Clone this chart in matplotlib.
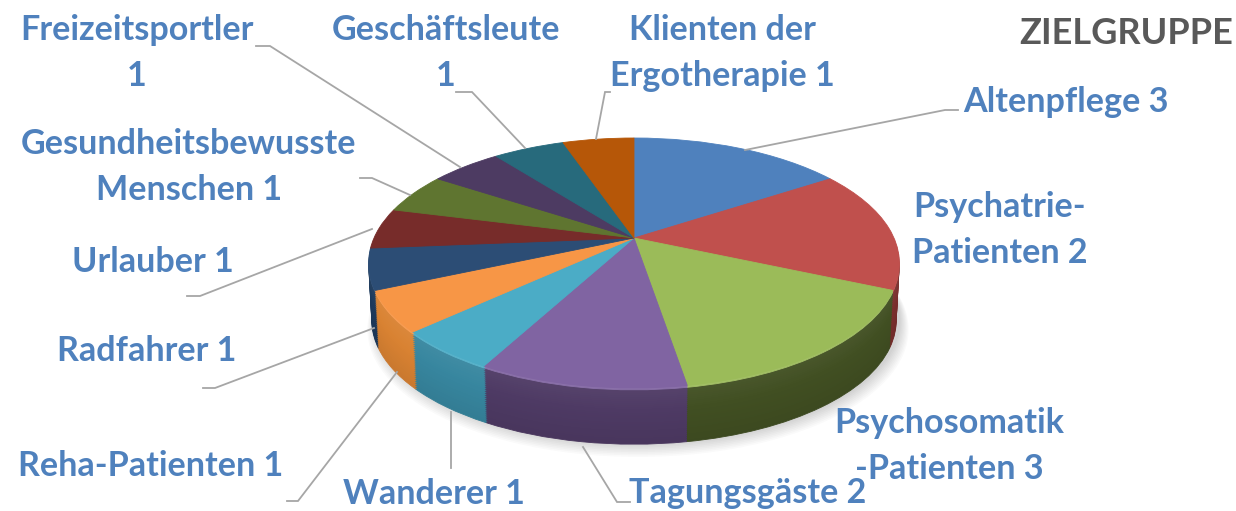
import numpy as np
import matplotlib
matplotlib.use("Agg")
import matplotlib.pyplot as plt
from matplotlib.transforms import Transform
from matplotlib.colors import to_rgb

# data ---------------------------------------------------------------
categories = ["Altenpflege", "Psychatrie-Patienten", "Psychosomatik-Patienten",
              "Tagungsgäste", "Wanderer", "Reha-Patienten", "Radfahrer", "Urlauber",
              "Gesundheitsbewusste Menschen", "Freizeitsportler", "Geschäftsleute",
              "Klienten der Ergotherapie"]
# slice sizes as drawn in the picture (the printed label of Psychatrie says 2)
values = [3, 3, 3, 2, 1, 1, 1, 1, 1, 1, 1, 1]
top_colors = ["#4f81bd", "#c0504d", "#9bbb59", "#8064a2", "#4bacc6", "#f79646",
              "#2c4d75", "#772c2a", "#5f7530", "#4d3b62", "#276a7c", "#b65708"]
side_colors = ["#2f4f78", "#7a2f2d", "#414f22", "#4e3a64", "#37869f", "#d98232",
               "#1d3a5c", "#5a2120", "#48591f", "#3a2c4a", "#1d5060", "#8a4206"]

title = "ZIELGRUPPE"
labels = ["Altenpflege 3", "Psychatrie-\nPatienten 2", "Psychosomatik\n-Patienten 3",
          "Tagungsgäste 2", "Wanderer 1", "Reha-Patienten 1", "Radfahrer 1", "Urlauber 1",
          "Gesundheitsbewusste\nMenschen 1", "Freizeitsportler\n1", "Geschäftsleute\n1",
          "Klienten der\nErgotherapie 1"]

# layout (pixels) ----------------------------------------------------
W, H = 1236, 511
label_xy = [(1066, 102), (1000, 230), (949, 446), (748, 493), (434, 494), (151, 466),
            (147, 351), (153, 262), (189, 167), (137, 53), (446, 53), (722, 53)]
leaders = [
    [(958, 110), (945, 110), (745, 150)],
    None, None,
    [(630, 502), (617, 502), (583, 447)],
    [(451, 468), (451, 412)],
    [(287, 501), (298, 501), (397, 372)],
    [(203, 388), (215, 388), (374, 328)],
    [(187, 296), (200, 296), (372, 229)],
    [(360, 178), (372, 178), (410, 195)],
    [(256, 46), (270, 46), (460, 167)],
    [(456, 92), (472, 92), (525, 148)],
    [(610, 92), (605, 92), (596, 139)],
]
CX, CY, RX, RY, K = 634, 238, 260, 120, 0.2
DEPTH = 58


class Persp(Transform):
    """Perspective view of the unit-circle pie plane, in pixel coordinates."""
    input_dims = output_dims = 2
    has_inverse = False
    is_separable = False

    def __init__(self, drop=0.0, scale=1.0, cx=CX):
        super().__init__()
        self.drop, self.scale, self.cx = drop, scale, cx

    def transform_non_affine(self, values):
        xy = np.asarray(values, float)
        w = 1 + K * xy[:, 1]
        return np.column_stack([self.cx + self.scale * RX * xy[:, 0] / w,
                                CY + self.drop - self.scale * RY * xy[:, 1] / w])


def mix(c, f):
    r = np.array(to_rgb(c))
    return tuple(np.clip(r * f if f <= 1 else r + (1 - r) * (f - 1), 0, 1))


plt.rcParams["font.family"] = ["Lato", "DejaVu Sans"]
fig = plt.figure(figsize=(W / 100, H / 100), dpi=100)
ax = fig.add_axes([0, 0, 1, 1])


def layer(colors, drop, scale=1.0, cx=CX, alpha=None, sizes=values):
    wedges, _ = ax.pie(sizes, colors=colors, startangle=90, counterclock=False,
                       wedgeprops=dict(alpha=alpha))
    for w in wedges:
        w.set_transform(Persp(drop, scale, cx) + ax.transData)
        w.set_clip_on(False)
        if alpha is None:
            w.set_edgecolor(w.get_facecolor())
            w.set_linewidth(0.6)
        else:
            w.set_linewidth(0)


# soft drop shadow
for i in range(9):
    layer(["#000000"], DEPTH + 8 - i, 1.02 - i * 0.004, CX + 4, alpha=0.018, sizes=[1])

# side wall, bottom to top
n = DEPTH // 2
for i in range(n, 0, -1):
    t = i / n
    layer([mix(c, 1.05 - 0.12 * t) for c in side_colors], DEPTH * t, 1 - 0.012 * t)
# light rim on the top edge
layer([mix(c, 1.08) for c in top_colors], 2.0, 0.999)
# top face
layer(top_colors, 0)

ax.set_aspect("auto")
ax.set_xlim(0, W)
ax.set_ylim(H, 0)
ax.axis("off")

for pts in leaders:
    if pts:
        xs, ys = zip(*pts)
        ax.plot(xs, ys, color="#a6a6a6", lw=1.3, solid_joinstyle="miter", zorder=5)

for txt, (x, y) in zip(labels, label_xy):
    ax.text(x, y, txt, color="#4f81bd", fontsize=24.6, fontweight="bold", ha="center",
            va="center", linespacing=1.56, zorder=6)
ax.text(1126, 34, title, color="#595959", fontsize=26, fontweight="bold",
        ha="center", va="center", zorder=6)

fig.savefig("out.png", dpi=100)
